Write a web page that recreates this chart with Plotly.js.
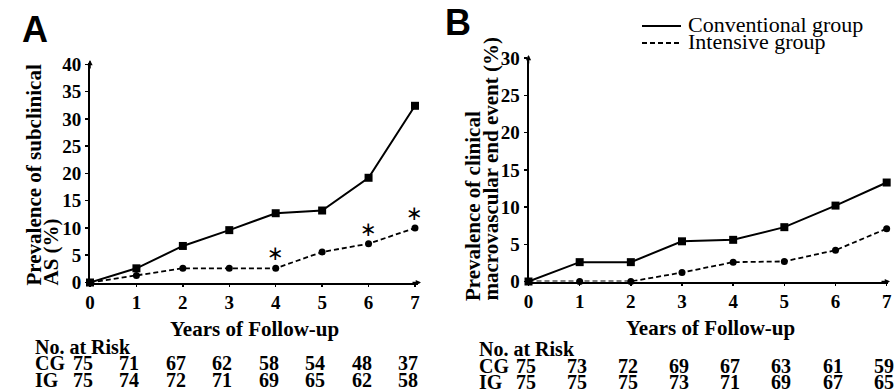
<!DOCTYPE html>
<html>
<head>
<meta charset="utf-8">
<script src="https://cdn.plot.ly/plotly-3.0.1.min.js"></script>
<style>html,body{margin:0;padding:0;background:#fff}#chart{width:896px;height:391px}</style>
</head>
<body>
<div id="chart"></div>
<script>
// ---- data ----
const years = [0, 1, 2, 3, 4, 5, 6, 7];
const convA = [0, 2.6, 6.7, 9.6, 12.7, 13.2, 19.2, 32.4];
const intA  = [0, 1.3, 2.6, 2.6, 2.6, 5.6, 7.1, 10.0];
const sigYearsA = [4, 6, 7];
const convB = [0, 2.6, 2.6, 5.4, 5.6, 7.3, 10.2, 13.3];
const intB  = [0, 0, 0, 1.2, 2.6, 2.7, 4.2, 7.1];
const riskCG_A = [75, 71, 67, 62, 58, 54, 48, 37];
const riskIG_A = [75, 74, 72, 71, 69, 65, 62, 58];
const riskCG_B = [75, 73, 72, 69, 67, 63, 61, 59];
const riskIG_B = [75, 75, 75, 73, 71, 69, 67, 65];
const yTicksA = [0, 5, 10, 15, 20, 25, 30, 35, 40];
const yTicksB = [0, 5, 10, 15, 20, 25, 30];
const seriesNames = ['Conventional group', 'Intensive group'];

// ---- styles ----
const SERIF = '"Liberation Serif", "Times New Roman", serif';
const W = 896, H = 391;
const px = v => v / W, py = v => (H - v) / H;

function lineTrace(x, y, dash, symbol, xa, ya, name) {
  return {
    x: x, y: y, xaxis: xa, yaxis: ya, name: name, type: 'scatter', mode: 'lines+markers',
    line: {color: '#000', width: dash === 'solid' ? 2 : 1.8, dash: dash},
    marker: {color: '#000', symbol: symbol, size: symbol === 'square' ? 8 : 7},
    cliponaxis: false, showlegend: false, hoverinfo: 'x+y'
  };
}

const traces = [
  lineTrace(years, intA, '5px,3px', 'circle', 'x', 'y', seriesNames[1]),
  lineTrace(years, convA, 'solid', 'square', 'x', 'y', seriesNames[0]),
  lineTrace(years, intB, '5px,3px', 'circle', 'x2', 'y2', seriesNames[1]),
  lineTrace(years, convB, 'solid', 'square', 'x2', 'y2', seriesNames[0])
];

const tickFont = {family: SERIF, size: 19, color: '#000', weight: 'bold'};
function xAxis(domain, range, anchor) {
  return {domain: domain, range: range, anchor: anchor, tickvals: years, ticktext: years.map(String),
    showline: true, linecolor: '#000', linewidth: 2, ticks: 'outside', ticklen: 2, tickwidth: 1.5, tickcolor: '#000',
    showgrid: false, zeroline: false, tickfont: tickFont, fixedrange: true};
}
function yAxis(domain, range, anchor, tv) {
  return {domain: domain, range: range, anchor: anchor, tickvals: tv, ticktext: tv.map(String),
    showline: true, linecolor: '#000', linewidth: 2, ticks: 'outside', ticklen: 3, tickwidth: 1.5, tickcolor: '#000',
    showgrid: false, zeroline: false, tickfont: tickFont, fixedrange: true};
}

const ann = [];
const bold = (t, size, extra) => Object.assign({text: t, showarrow: false,
  font: {family: SERIF, size: size, color: '#000', weight: 'bold'}}, extra);

// panel letters
ann.push({text: 'A', xref: 'paper', yref: 'paper', x: px(20), y: py(7), xanchor: 'left', yanchor: 'top',
  showarrow: false, font: {family: '"Liberation Sans", Arial, sans-serif', size: 36, color: '#000', weight: 'bold'}});
ann.push({text: 'B', xref: 'paper', yref: 'paper', x: px(443), y: py(0), xanchor: 'left', yanchor: 'top',
  showarrow: false, font: {family: '"Liberation Sans", Arial, sans-serif', size: 36, color: '#000', weight: 'bold'}});

// y axis titles (rotated)
ann.push(bold('Prevalence of subclinical', 21, {xref: 'paper', yref: 'paper', x: px(33), y: py(288), textangle: -90, xanchor: 'center', yanchor: 'bottom'}));
ann.push(bold('AS (%)', 21, {xref: 'paper', yref: 'paper', x: px(50), y: py(288), textangle: -90, xanchor: 'center', yanchor: 'bottom'}));
ann.push(bold('Prevalence of clinical', 21, {xref: 'paper', yref: 'paper', x: px(473), y: py(303), textangle: -90, xanchor: 'center', yanchor: 'bottom'}));
ann.push(bold('macrovascular end event (%)', 21, {xref: 'paper', yref: 'paper', x: px(490), y: py(303), textangle: -90, xanchor: 'center', yanchor: 'bottom'}));

// x axis titles
ann.push(bold('Years of Follow-up', 21, {xref: 'paper', yref: 'paper', x: px(254), y: py(329), xanchor: 'center', yanchor: 'middle'}));
ann.push(bold('Years of Follow-up', 21, {xref: 'paper', yref: 'paper', x: px(710), y: py(328), xanchor: 'center', yanchor: 'middle'}));

// asterisks (significance marks)
sigYearsA.forEach(yr => {
  ann.push({text: '\u2217', xref: 'x', yref: 'y', x: yr, y: intA[years.indexOf(yr)], yshift: 15, xanchor: 'center', yanchor: 'middle',
    showarrow: false, font: {family: '"DejaVu Sans"', size: 20, color: '#000000'}});
});

// number at risk tables
function riskTable(cg, ig, xa, leftX, rows, shift) {
  ann.push(bold('No. at Risk', 20, {xref: 'paper', yref: 'paper', x: px(leftX), y: py(rows[0]), xanchor: 'left', yanchor: 'middle'}));
  ann.push(bold('CG', 20, {xref: 'paper', yref: 'paper', x: px(leftX), y: py(rows[1]), xanchor: 'left', yanchor: 'middle'}));
  ann.push(bold('IG', 20, {xref: 'paper', yref: 'paper', x: px(leftX), y: py(rows[2]), xanchor: 'left', yanchor: 'middle'}));
  years.forEach((yr, i) => {
    ann.push(bold(String(cg[i]), 20, {xref: xa, yref: 'paper', x: yr, xshift: shift, y: py(rows[1]), xanchor: 'center', yanchor: 'middle'}));
    ann.push(bold(String(ig[i]), 20, {xref: xa, yref: 'paper', x: yr, xshift: shift, y: py(rows[2]), xanchor: 'center', yanchor: 'middle'}));
  });
}
riskTable(riskCG_A, riskIG_A, 'x', 33, [347, 363, 380], -7);
riskTable(riskCG_B, riskIG_B, 'x2', 477, [349, 366, 382], -3);

// axis arrows
function arrow(xp, yp, ax, ay) {
  ann.push({text: '', xref: 'paper', yref: 'paper', x: px(xp), y: py(yp), ax: ax, ay: ay, axref: 'pixel', ayref: 'pixel',
    showarrow: true, arrowhead: 2, arrowsize: 0.7, arrowwidth: 1.5, arrowcolor: '#000', standoff: 0});
}
arrow(90, 60, 0, 10);
arrow(421, 282.5, -10, 0);
arrow(528.5, 55, 0, 10);
arrow(890, 281.5, -10, 0);

// legend (drawn)
ann.push({text: seriesNames[0], xref: 'paper', yref: 'paper', x: px(686), y: py(25), xanchor: 'left', yanchor: 'middle',
  showarrow: false, font: {family: SERIF, size: 22, color: '#000'}});
ann.push({text: seriesNames[1], xref: 'paper', yref: 'paper', x: px(686), y: py(42), xanchor: 'left', yanchor: 'middle',
  showarrow: false, font: {family: SERIF, size: 22, color: '#000'}});
const shapes = [
  {type: 'line', xref: 'paper', yref: 'paper', x0: px(642), x1: px(681), y0: py(26), y1: py(26), line: {color: '#000', width: 2}},
  {type: 'line', xref: 'paper', yref: 'paper', x0: px(642), x1: px(681), y0: py(43), y1: py(43), line: {color: '#000', width: 2, dash: '5px,3px'}}
];

const layout = {
  width: W, height: H, margin: {l: 0, r: 0, t: 0, b: 0},
  paper_bgcolor: '#fff', plot_bgcolor: 'rgba(0,0,0,0)', showlegend: false,
  xaxis: xAxis([px(90), px(418)], [0, 7.065], 'y'),
  yaxis: yAxis([py(282.5), py(62.7)], [0, 40.3], 'x', yTicksA),
  xaxis2: xAxis([px(528.5), px(887.7)], [0, 7.02], 'y2'),
  yaxis2: yAxis([py(281.5), py(57.5)], [0, 30.1], 'x2', yTicksB),
  annotations: ann, shapes: shapes
};

Plotly.newPlot('chart', traces, layout, {staticPlot: true, displayModeBar: false});
</script>
</body>
</html>
